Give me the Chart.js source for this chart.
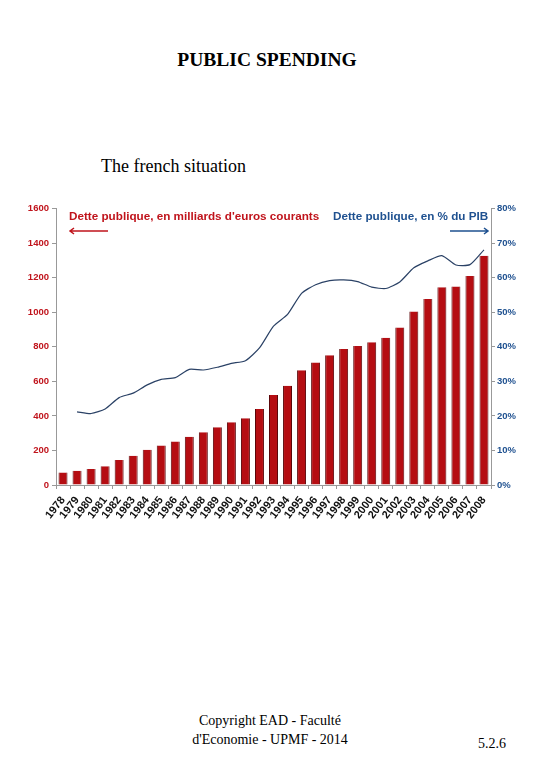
<!DOCTYPE html>
<html>
<head>
<meta charset="utf-8">
<script src="https://cdn.jsdelivr.net/npm/chart.js@4"></script>
<style>
  body { margin: 0; width: 540px; height: 780px; background: #fff; position: relative; font-family: "Liberation Serif", serif; }
  .abs { position: absolute; white-space: nowrap; }
  #title { top: 49px; left: 0; width: 534px; text-align: center; font-weight: bold; font-size: 19.5px; }
  #sub { top: 156px; left: 101px; font-size: 18px; }
  #wrap { position: absolute; left: 20px; top: 200px; width: 510px; height: 330px; }
  .leg { font-family: "Liberation Sans", Arial, sans-serif; font-weight: bold; font-size: 11.7px; }
  #legL { top: 209px; left: 69px; color: #c0141c; }
  #legR { top: 209px; left: 333px; color: #1f5190; }
  .foot { font-size: 14px; }
</style>
</head>
<body>
<div id="title" class="abs">PUBLIC SPENDING</div>
<div id="sub" class="abs">The french situation</div>
<div id="wrap"><canvas id="debt-chart"></canvas></div>
<div id="legL" class="abs leg">Dette publique, en milliards d'euros courants</div>
<div id="legR" class="abs leg">Dette publique, en % du PIB</div>
<div class="abs foot" style="top:713px; left:0; width:540px; text-align:center;">Copyright EAD - Faculté</div>
<div class="abs foot" style="top:732px; left:0; width:540px; text-align:center;">d'Economie - UPMF - 2014</div>
<div class="abs foot" style="top:736px; left:478px;">5.2.6</div>
<script>
const years = ["1978", "1979", "1980", "1981", "1982", "1983", "1984", "1985", "1986", "1987",
  "1988", "1989", "1990", "1991", "1992", "1993", "1994", "1995", "1996", "1997",
  "1998", "1999", "2000", "2001", "2002", "2003", "2004", "2005", "2006", "2007", "2008"];

// dette en milliards d'euros courants
const debtBillions = [73, 83, 92, 108, 145, 170, 204, 229, 252, 280,
  305, 335, 363, 386, 440, 521, 575, 664, 710, 752,
  787, 805, 827, 853, 912, 1004, 1077, 1145, 1150, 1211, 1327];

// dette en % du PIB (pas de valeur en 1978)
const debtPct = [null, 21.2, 20.7, 22.0, 25.3, 26.6, 29.0, 30.6, 31.1, 33.5,
  33.3, 34.1, 35.2, 36.0, 39.7, 46.0, 49.4, 55.5, 58.0, 59.2,
  59.4, 58.9, 57.3, 56.9, 58.8, 62.9, 64.9, 66.4, 63.7, 63.8, 68.1];

const leftTicks = [0, 200, 400, 600, 800, 1000, 1200, 1400, 1600];
const rightTicks = [0, 10, 20, 30, 40, 50, 60, 70, 80];

const red = "#c0141c";
const blue = "#1f5190";
const tickFont = { family: "Liberation Sans", size: 9.5, weight: "bold" };

// petites fleches sous les legendes
const arrows = {
  id: "arrows",
  afterDraw(chart) {
    const ctx = chart.ctx;
    const y = 31;
    ctx.save();
    ctx.lineWidth = 1.5;
    ctx.strokeStyle = red;
    ctx.beginPath();
    ctx.moveTo(50, y); ctx.lineTo(88, y);
    ctx.moveTo(54, y - 3); ctx.lineTo(50, y); ctx.lineTo(54, y + 3);
    ctx.stroke();
    ctx.strokeStyle = blue;
    ctx.beginPath();
    ctx.moveTo(430, y); ctx.lineTo(468, y);
    ctx.moveTo(464, y - 3); ctx.lineTo(468, y); ctx.lineTo(464, y + 3);
    ctx.stroke();
    ctx.restore();
  }
};

new Chart(document.getElementById("debt-chart"), {
  data: {
    labels: years,
    datasets: [
      {
        type: "line",
        label: "Dette publique, en % du PIB",
        data: debtPct,
        yAxisID: "y1",
        borderColor: "#2b4266",
        borderWidth: 1.2,
        pointRadius: 0,
        tension: 0.2,
        order: 0,
      },
      {
        type: "bar",
        label: "Dette publique, en milliards d'euros courants",
        data: debtBillions,
        yAxisID: "y",
        backgroundColor: "#b50d12",
        borderColor: "#5a0508",
        borderWidth: { left: 1, right: 1, top: 0, bottom: 0 },
        categoryPercentage: 1,
        barPercentage: 0.64,
        order: 1,
      },
    ],
  },
  options: {
    responsive: true,
    maintainAspectRatio: false,
    animation: false,
    layout: { padding: { top: 4 } },
    plugins: {
      legend: { display: false },
      tooltip: { enabled: false },
    },
    scales: {
      x: {
        afterFit: (axis) => { axis.height = 45; },
        grid: { drawOnChartArea: false, tickLength: 4, color: "#999" },
        border: { color: "#999" },
        ticks: {
          color: "#111",
          font: { family: "Liberation Sans", size: 11, weight: "bold" },
          minRotation: 52,
          maxRotation: 52,
          autoSkip: false,
          padding: 5,
        },
      },
      y: {
        position: "left",
        min: 0,
        max: 1600,
        afterBuildTicks: (axis) => { axis.ticks = leftTicks.map((v) => ({ value: v })); },
        afterFit: (axis) => { axis.width = 36; },
        grid: { drawOnChartArea: false, tickLength: 4, color: "#999" },
        border: { color: "#999" },
        ticks: { color: red, font: tickFont, padding: 3, callback: (v) => String(v) },
      },
      y1: {
        position: "right",
        min: 0,
        max: 80,
        afterBuildTicks: (axis) => { axis.ticks = rightTicks.map((v) => ({ value: v })); },
        afterFit: (axis) => { axis.width = 39; },
        grid: { drawOnChartArea: false, tickLength: 4, color: "#999" },
        border: { color: "#999" },
        ticks: { color: blue, font: tickFont, padding: 2, callback: (v) => v + "%" },
      },
    },
  },
  plugins: [arrows],
});
</script>
</body>
</html>
